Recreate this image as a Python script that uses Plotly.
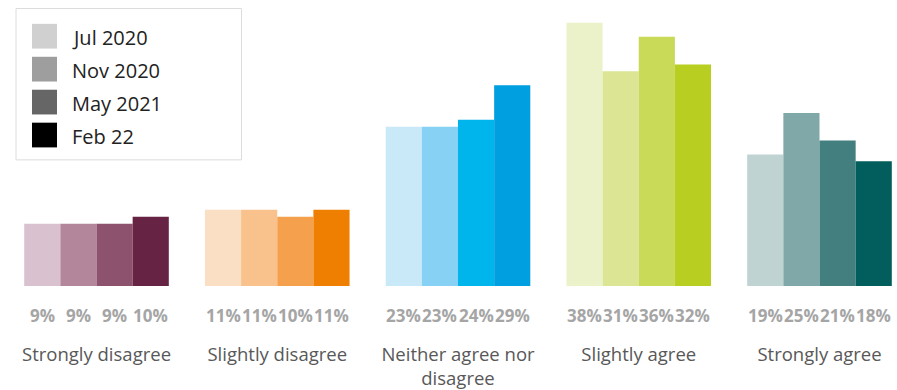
import plotly.graph_objects as go

categories = ["Strongly disagree", "Slightly disagree", "Neither agree nor<br>disagree",
              "Slightly agree", "Strongly agree"]
series_names = ["Jul 2020", "Nov 2020", "May 2021", "Feb 22"]
jul_2020 = [9, 11, 23, 38, 19]
nov_2020 = [9, 11, 23, 31, 25]
may_2021 = [9, 10, 24, 36, 21]
feb_22 = [10, 11, 29, 32, 18]
series_values = [jul_2020, nov_2020, may_2021, feb_22]

# colours per series (rows) and category (columns)
bar_colors = [
    ["#dac1cf", "#fbdfc4", "#c9e8f8", "#ebf2c9", "#bfd3d3"],
    ["#b3869b", "#f9c18b", "#86d1f4", "#dbe594", "#81a8a8"],
    ["#8d536e", "#f4a04c", "#00b4ec", "#c9da58", "#437f7e"],
    ["#672343", "#ef7f00", "#009fe0", "#b8cf21", "#025e5c"],
]
legend_colors = ["#d0d0d0", "#9e9e9e", "#666666", "#000000"]

W, H = 897, 390
ML, MR, MT, MB = 0, 0, 9, 101
PW, PH = W - ML - MR, H - MT - MB
FONT = "Open Sans"

x_idx = list(range(len(categories)))
fig = go.Figure()
offsets = [-0.3, -0.1, 0.1, 0.3]
for s, (name, vals) in enumerate(zip(series_names, series_values)):
    fig.add_trace(go.Bar(
        x=x_idx, y=vals, name=name, marker=dict(color=bar_colors[s], line=dict(width=0)),
        showlegend=False, hoverinfo="skip",
    ))
    for i, v in enumerate(vals):
        fig.add_annotation(x=i + offsets[s], y=0, xref="x", yref="y", text=f"{v}%",
                           showarrow=False, yshift=-29, yanchor="middle",
                           font=dict(family=FONT, size=17, color="#a5a5a5", weight=700))

# baseline under the bars
fig.add_shape(type="rect", xref="x", yref="y", x0=-0.4, x1=4.4, ysizemode="pixel",
              yanchor=0, y0=-3, y1=0, fillcolor="#e3e3e3", line=dict(width=0), layer="below")

def px_x(px):
    return (px - ML) / PW

def px_y(py):
    return (H - MB - py) / PH

# manual legend
fig.add_shape(type="rect", xref="paper", yref="paper", x0=px_x(16), x1=px_x(241.5),
              y0=px_y(161.5), y1=px_y(8.5), line=dict(color="#dcdcdc", width=1),
              fillcolor="white")
for k, (name, col) in enumerate(zip(series_names, legend_colors)):
    top = 24 + k * 33.3
    fig.add_shape(type="rect", xref="paper", yref="paper", x0=px_x(32), x1=px_x(57),
                  y0=px_y(top + 25), y1=px_y(top), fillcolor=col, line=dict(width=0))
    fig.add_annotation(xref="paper", yref="paper", x=px_x(70), y=px_y(top + 13.5),
                       text=name, showarrow=False, xanchor="left", yanchor="middle",
                       font=dict(family=FONT, size=20, color="#222222"))

fig.update_layout(
    width=W, height=H,
    margin=dict(l=ML, r=MR, t=MT, b=MB),
    barmode="group", bargap=0.2, bargroupgap=0,
    plot_bgcolor="white", paper_bgcolor="white",
    showlegend=False,
    xaxis=dict(range=[-96.5 / 180.75, -96.5 / 180.75 + PW / 180.75], tickvals=x_idx,
               ticktext=categories, showgrid=False, zeroline=False, showline=False,
               ticks="", ticklabelstandoff=55,
               tickfont=dict(family=FONT, size=18.5, color="#585858", weight=500)),
    yaxis=dict(range=[0, 40], visible=False, showgrid=False, zeroline=False),
)

fig.write_html("out.html")
